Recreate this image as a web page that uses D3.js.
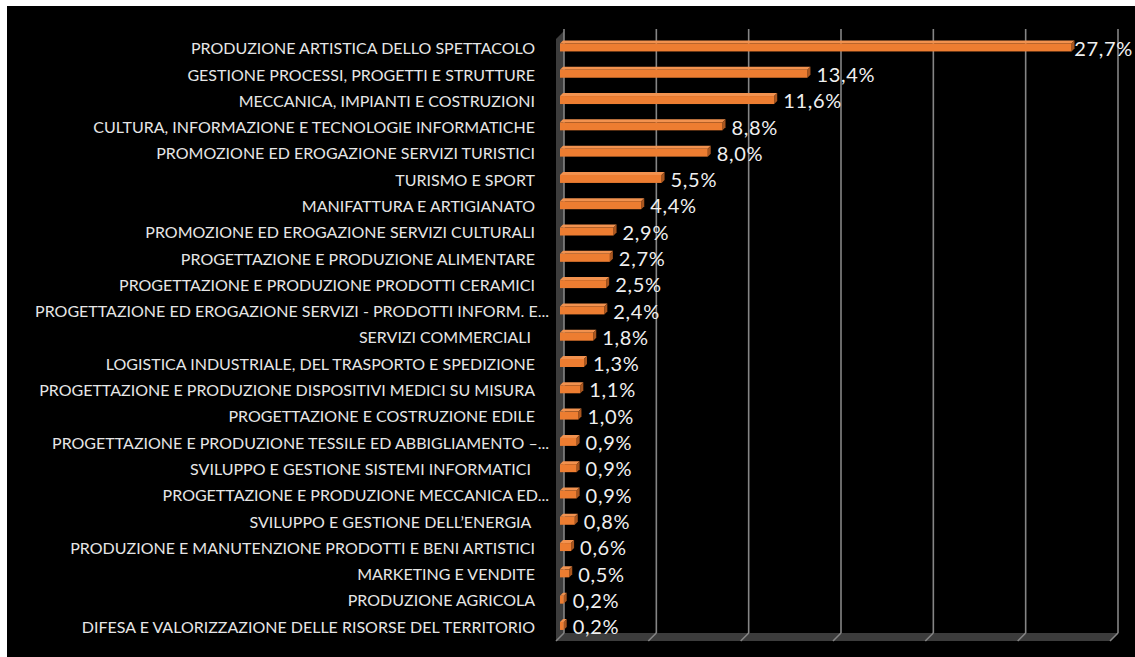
<!DOCTYPE html>
<html>
<head>
<meta charset="utf-8">
<script src="https://cdn.jsdelivr.net/npm/d3@7"></script>
<style>
  html, body { margin: 0; padding: 0; background: #ffffff; }
  svg { display: block; }
  text { white-space: pre; }
</style>
</head>
<body>
<svg id="chart" width="1135" height="657"></svg>
<script>
const categories = [
  "PRODUZIONE ARTISTICA DELLO SPETTACOLO",
  "GESTIONE PROCESSI, PROGETTI E STRUTTURE",
  "MECCANICA, IMPIANTI E COSTRUZIONI",
  "CULTURA, INFORMAZIONE E TECNOLOGIE INFORMATICHE",
  "PROMOZIONE ED EROGAZIONE SERVIZI TURISTICI",
  "TURISMO E SPORT",
  "MANIFATTURA E ARTIGIANATO",
  "PROMOZIONE ED EROGAZIONE SERVIZI CULTURALI",
  "PROGETTAZIONE E PRODUZIONE ALIMENTARE",
  "PROGETTAZIONE E PRODUZIONE PRODOTTI CERAMICI",
  "PROGETTAZIONE ED EROGAZIONE SERVIZI - PRODOTTI INFORM. E...",
  "SERVIZI COMMERCIALI ",
  "LOGISTICA INDUSTRIALE, DEL TRASPORTO E SPEDIZIONE",
  "PROGETTAZIONE E PRODUZIONE DISPOSITIVI MEDICI SU MISURA",
  "PROGETTAZIONE E COSTRUZIONE EDILE",
  "PROGETTAZIONE E PRODUZIONE TESSILE ED ABBIGLIAMENTO –...",
  "SVILUPPO E GESTIONE SISTEMI INFORMATICI ",
  "PROGETTAZIONE E PRODUZIONE MECCANICA ED...",
  "SVILUPPO E GESTIONE DELL’ENERGIA ",
  "PRODUZIONE E MANUTENZIONE PRODOTTI E BENI ARTISTICI",
  "MARKETING E VENDITE",
  "PRODUZIONE AGRICOLA",
  "DIFESA E VALORIZZAZIONE DELLE RISORSE DEL TERRITORIO"
];
const values = [27.7, 13.4, 11.6, 8.8, 8.0, 5.5, 4.4, 2.9, 2.7, 2.5, 2.4, 1.8, 1.3, 1.1, 1.0, 0.9, 0.9, 0.9, 0.8, 0.6, 0.5, 0.2, 0.2];
const gridTicks = [0, 5, 10, 15, 20, 25, 30];

const fmt = v => v.toFixed(1).replace(".", ",") + "%";

const svg = d3.select("#chart");
const W = 1135, H = 657;

// black chart area
svg.append("rect").attr("x", 7).attr("y", 6).attr("width", W - 7).attr("height", H - 6).attr("fill", "#000");

const x = d3.scaleLinear().domain([0, 30]).range([560, 1114]);
const y = d3.scaleBand().domain(categories).range([35.3, 640.1]).padding(0);

const depth = 4;      // offset from bar plane to back plane
const wallTop = 31, floorBack = 633;

// left wall
const x0b = x(0) + depth, x0f = x(0) - depth;
svg.append("path")
  .attr("d", `M${x0f},${wallTop + 8} L${x0b},${wallTop} L${x0b},${floorBack} L${x0f},${floorBack + 8} Z`)
  .attr("fill", "#3c3c3c");

// floor
svg.append("path")
  .attr("d", `M${x0f},${floorBack + 8} L${x0b},${floorBack} L${x(30) + depth},${floorBack} L${x(30) - depth},${floorBack + 8} Z`)
  .attr("fill", "#3c3c3c");

// gridlines (back plane) and floor diagonals
const grid = svg.append("g");
grid.selectAll("line.v").data(gridTicks).join("line")
  .attr("class", "v")
  .attr("x1", d => x(d) + depth).attr("x2", d => x(d) + depth)
  .attr("y1", wallTop - 2).attr("y2", floorBack)
  .attr("stroke", "#858585").attr("stroke-width", 1.6);
grid.selectAll("line.d").data(gridTicks).join("line")
  .attr("class", "d")
  .attr("x1", d => x(d) + depth).attr("x2", d => x(d) - depth)
  .attr("y1", floorBack).attr("y2", floorBack + 8)
  .attr("stroke", "#858585").attr("stroke-width", 1.6);

// bars (3D)
const bh = 8, dz = 3;
const bars = svg.append("g").selectAll("g").data(values).join("g")
  .attr("transform", (d, i) => `translate(0,${y(categories[i]) + y.bandwidth() / 2 - 1})`);
bars.append("path")
  .attr("d", d => `M${x(0)},${-bh/2} L${x(0)+dz},${-bh/2-dz} L${x(d)+dz},${-bh/2-dz} L${x(d)},${-bh/2} Z`)
  .attr("fill", "#F2924F");
bars.append("path")
  .attr("d", d => `M${x(d)},${-bh/2} L${x(d)+dz},${-bh/2-dz} L${x(d)+dz},${bh/2-dz} L${x(d)},${bh/2} Z`)
  .attr("fill", "#A9561F");
bars.append("rect")
  .attr("x", x(0)).attr("y", -bh/2)
  .attr("width", d => x(d) - x(0)).attr("height", bh)
  .attr("fill", "#ED7D31");

// value labels
const vl = bars.append("text")
  .attr("y", 1).attr("dy", "0.36em")
  .attr("font-family", "Lato, 'Open Sans', sans-serif")
  .attr("font-size", 20)
  .attr("letter-spacing", 0.7)
  .attr("fill", "#f0f0f0")
  .text(d => fmt(d));
vl.each(function(d) {
  const w = this.getComputedTextLength();
  const px = Math.min(x(d) + 9, W - w - 2);
  d3.select(this).attr("x", px);
});

// category labels
svg.append("g").selectAll("text").data(categories).join("text")
  .attr("x", d => d.endsWith("...") ? 549 : 535)
  .attr("y", d => y(d) + y.bandwidth() / 2)
  .attr("dy", "0.36em")
  .attr("text-anchor", "end")
  .attr("font-family", "Lato, 'Open Sans', sans-serif")
  .attr("font-size", 16)
  .attr("fill", "#e6e6e6")
  .text(d => d);
</script>
</body>
</html>
